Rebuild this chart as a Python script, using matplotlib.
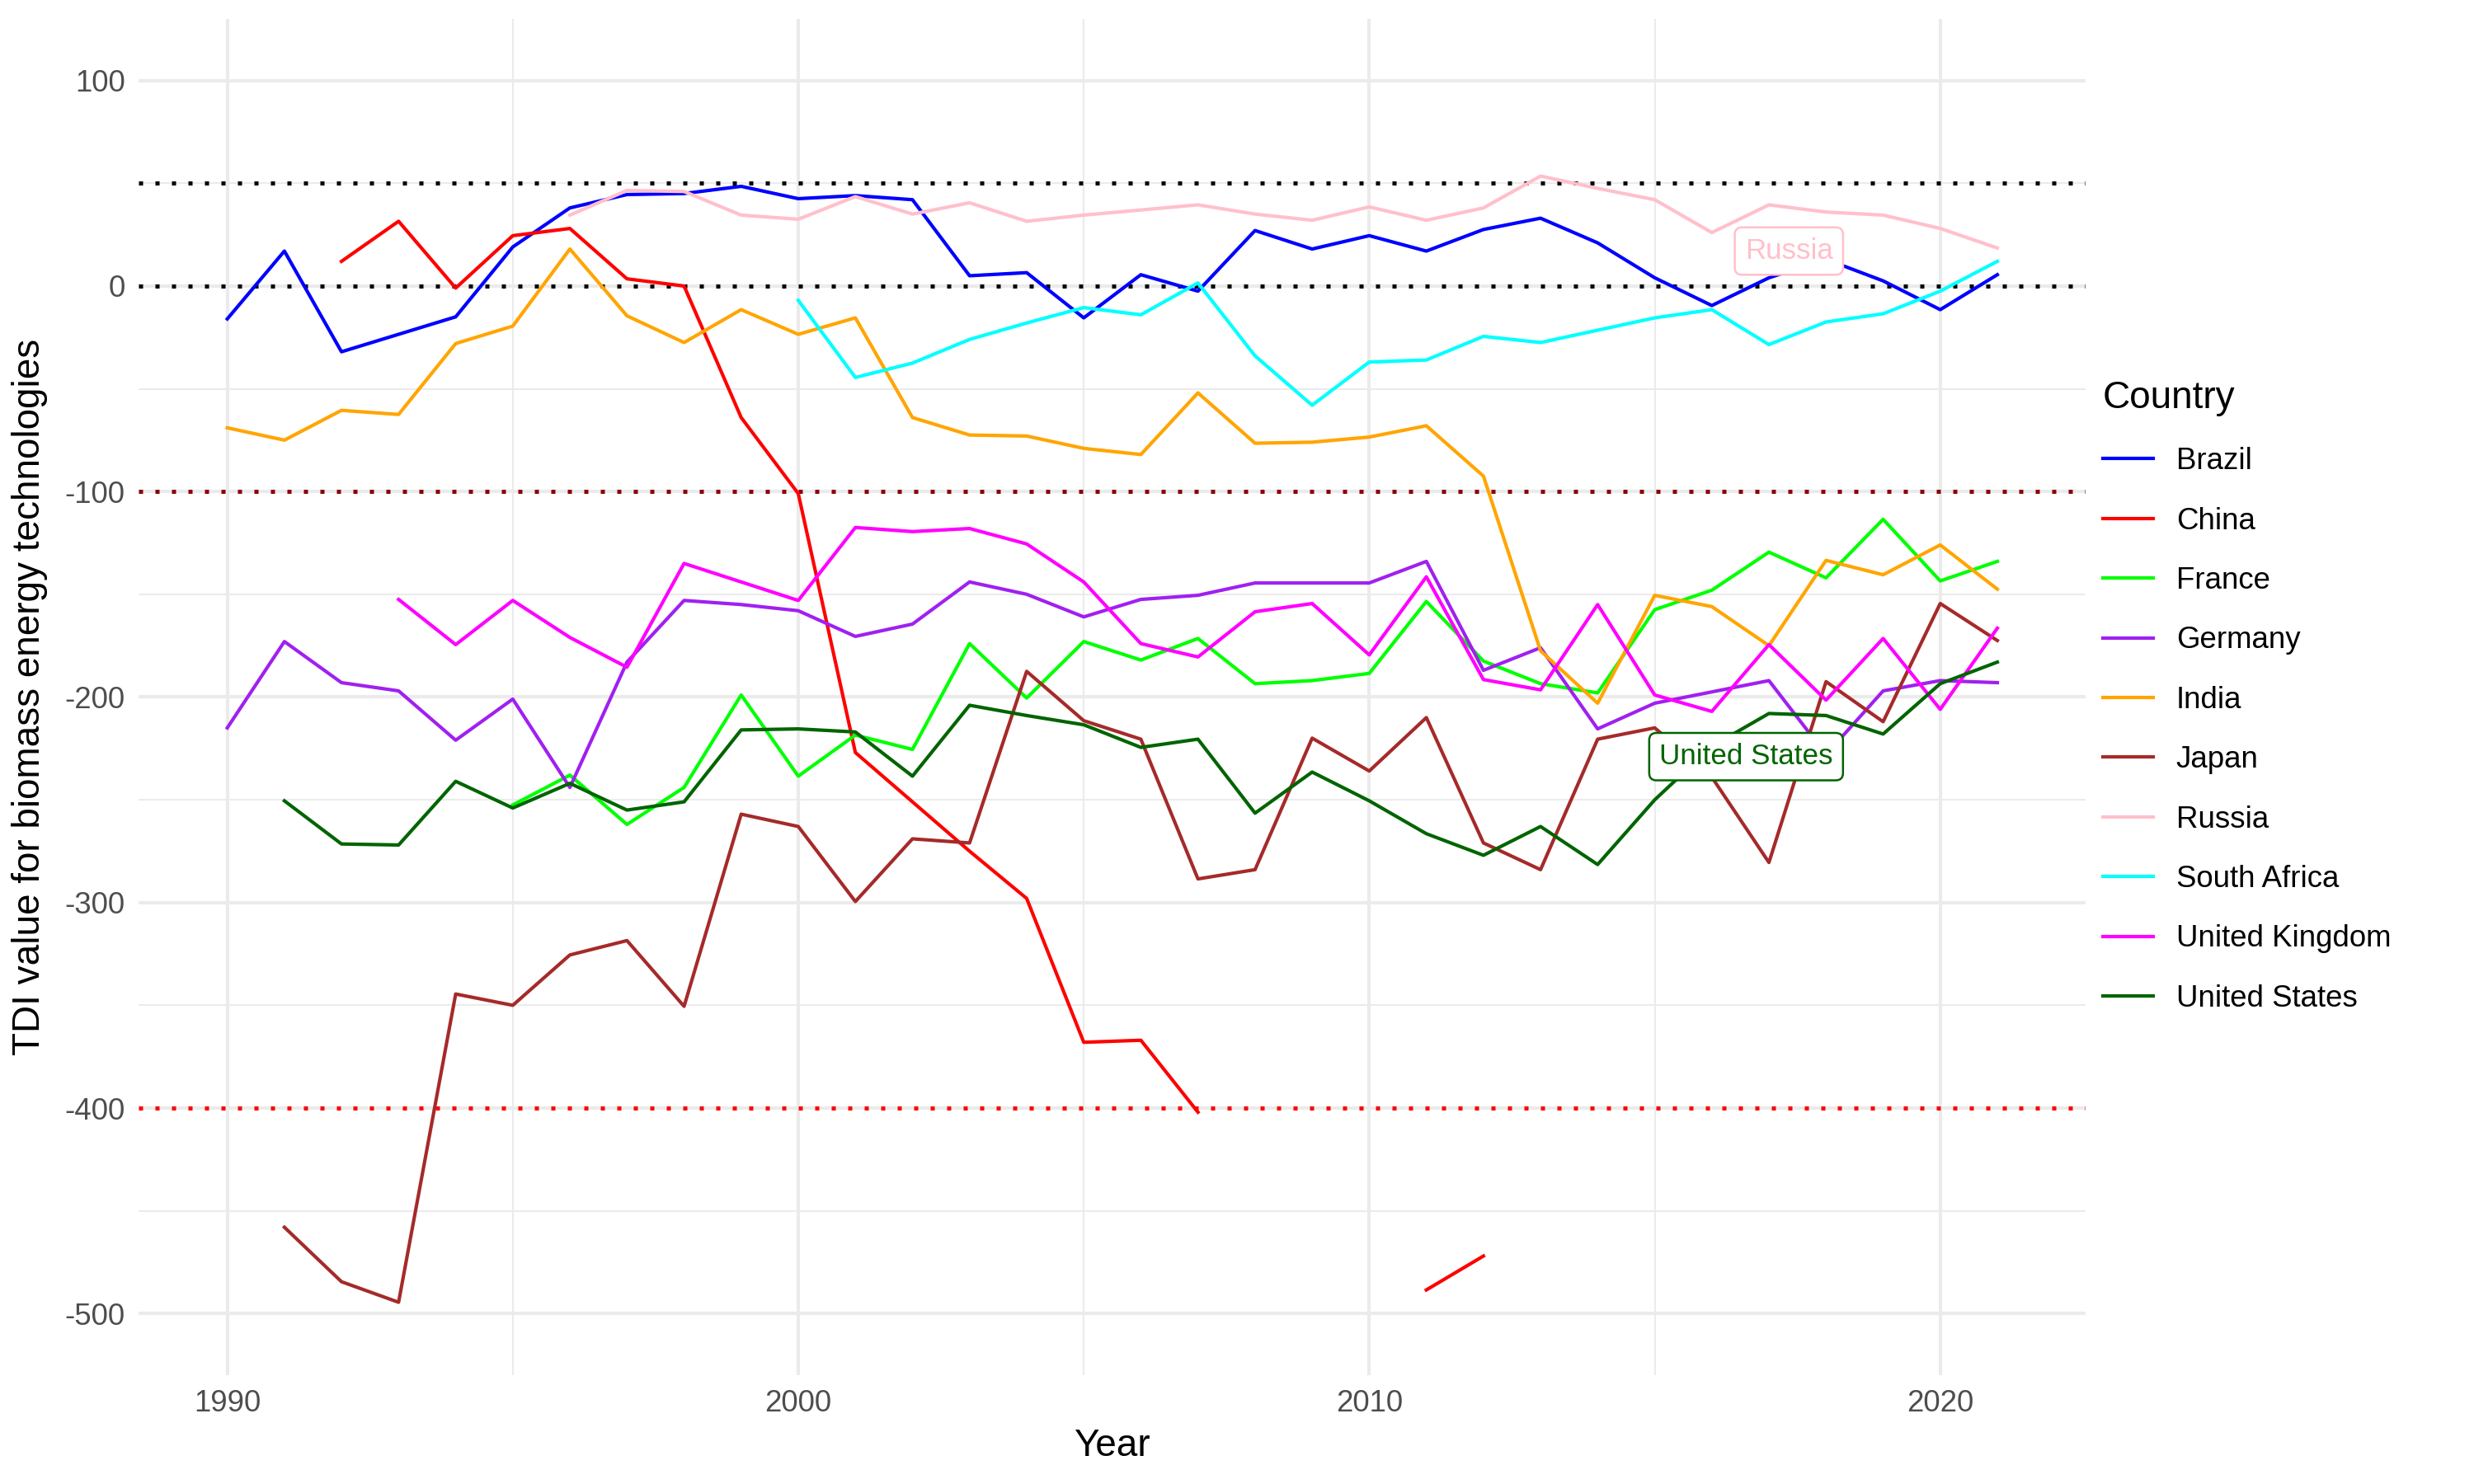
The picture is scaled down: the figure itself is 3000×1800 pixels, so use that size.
import numpy as np
import matplotlib
matplotlib.use("Agg")
import matplotlib.pyplot as plt
from matplotlib.ticker import MultipleLocator

plt.rcParams['font.family'] = ['Liberation Sans', 'DejaVu Sans']
plt.rcParams['axes.unicode_minus'] = False

nan = np.nan
years = list(range(1990, 2022))

brazil = [-16, 17, -32, -23.5, -15, 19, 38, 44.5, 45, 48.5, 42.5, 44, 42, 5, 6.5, -15.5,
          5.5, -2.5, 27, 18, 24.5, 17, 27.5, 33, 21, 4, -9.5, 4, 13, 2.5, -11.5, 5.5]
china = [nan, nan, 12, 31.5, -1, 24.5, 28, 3.5, 0, -64, -101, -227, -251, -275, -298, -368,
         -367, -402, nan, nan, nan, -488.5, -472] + [nan] * 9
france = [nan] * 5 + [-252.5, -238, -262, -244, -199, -238.5, -218.5, -225.5, -174, -200.5,
                      -173, -182, -171.5, -193.5, -192, -188.5, -153.5, -182.5, -193.5, -198,
                      -157.5, -148, -129.5, -142, -113.5, -143.5, -134]
germany = [-215, -173, -193, -197, -221, -201, -244, -183, -153, -155, -158, -170.5, -164.5,
           -144, -150, -161, -152.5, -150.5, -144.5, -144.5, -144.5, -134, -187, -176, -215.5,
           -203, -197.5, -192, -228, -197, -192, -193]
india = [-69, -75, -60.5, -62.5, -28, -19.5, 18, -14.5, -27.5, -11.5, -23.5, -15.5, -64, -72.5,
         -73, -79, -82, -52, -76.5, -76, -73.5, -68, -92.5, -177.5, -203, -150.5, -156, -175,
         -133.5, -140.5, -126, -147.5]
japan = [nan, -458, -484.5, -494.5, -344.5, -350, -325.5, -318.5, -350.5, -257, -263, -299.5,
         -269, -271, -187.5, -211.5, -220.5, -288.5, -284, -220, -236, -210, -271, -284, -220.5,
         -215, -239, -280.5, -192.5, -212, -154.5, -172.5]
russia = [nan] * 6 + [34.5, 46.5, 46, 34.5, 32.5, 43.5, 35, 40.5, 31.5, 34.5, 37, 39.5, 35, 32,
                      38.5, 32, 38, 53.5, 47.5, 42, 26, 39.5, 36, 34.5, 28, 18.5]
south_africa = [nan] * 10 + [-7, -44.5, -37.5, -26, -18, -10.5, -14, 1.5, -34, -58, -37, -36,
                             -24.5, -27.5, -21.5, -15.5, -11.5, -28.5, -17.5, -13.5, -2.5, 12]
uk = [nan] * 3 + [-152.5, -174.5, -153, -171, -185.5, -135, -144, -153, -117.5, -119.5, -118,
                  -125.5, -144, -174, -180.5, -158.5, -154.5, -179.5, -141.5, -191.5, -196.5,
                  -155, -199, -207, -174.5, -201.5, -171.5, -206, -166.5]
us = [nan, -250.5, -271.5, -272, -241, -254, -242, -255, -251, -216, -215.5, -217, -238.5, -204,
      -209, -213.5, -224.5, -220.5, -256.5, -236.5, -250.5, -266.5, -277, -263, -281.5, -250,
      -224, -208, -209, -218, -193.5, -183]

countries = ['Brazil', 'China', 'France', 'Germany', 'India', 'Japan', 'Russia',
             'South Africa', 'United Kingdom', 'United States']
series = [brazil, china, france, germany, india, japan, russia, south_africa, uk, us]
colors = ['#0000FF', '#FF0000', '#00FF00', '#A020F0', '#FFA500', '#A52A2A', '#FFC0CB',
          '#00FFFF', '#FF00FF', '#006400']

ref_levels = [50, 0, -100, -400]
ref_colors = ['black', 'black', '#8B0000', '#FF0000']

fig = plt.figure(figsize=(10, 6), dpi=300)
ax = fig.add_axes([0.0561, 0.0733, 0.787, 0.914])

for lvl, c in zip(ref_levels, ref_colors):
    ax.axhline(lvl, color=c, lw=1.2, linestyle=(0, (1, 3)), dash_capstyle='butt', zorder=2)

handles = []
for name, vals, c in zip(countries, series, colors):
    h, = ax.plot(years, np.array(vals, dtype=float), color=c, lw=1.0, label=name, zorder=3)
    handles.append(h)

# labels
ax.text(2017.35, 17, 'Russia', color='#FFC0CB', fontsize=8.4, ha='center', va='center', zorder=5,
        bbox=dict(boxstyle='round,pad=0.35,rounding_size=0.25', fc='white', ec='#FFC0CB', lw=0.6))
ax.text(2016.6, -229, 'United States', color='#006400', fontsize=8.4, ha='center', va='center',
        zorder=5,
        bbox=dict(boxstyle='round,pad=0.35,rounding_size=0.25', fc='white', ec='#006400', lw=0.6))

ax.set_xlim(1988.45, 2022.55)
ax.set_ylim(-530, 130)
ax.xaxis.set_major_locator(MultipleLocator(10))
ax.xaxis.set_minor_locator(MultipleLocator(5))
ax.yaxis.set_major_locator(MultipleLocator(100))
ax.yaxis.set_minor_locator(MultipleLocator(50))
ax.grid(which='major', color='#EBEBEB', lw=1.0, zorder=0)
ax.grid(which='minor', color='#EBEBEB', lw=0.5, zorder=0)
ax.set_axisbelow(True)
for s in ax.spines.values():
    s.set_visible(False)
ax.tick_params(which='both', length=0, labelsize=8.8, labelcolor='#4D4D4D', pad=4)
ax.set_xlabel('Year', fontsize=11, labelpad=3)
ax.set_ylabel('TDI value for biomass energy technologies', fontsize=11, labelpad=5)

leg = ax.legend(handles=handles, title='Country', loc='upper left',
                bbox_to_anchor=(0.850, 0.744), bbox_transform=fig.transFigure,
                frameon=False, fontsize=8.8, title_fontsize=11, handlelength=1.67,
                handletextpad=0.75, labelspacing=1.02, borderaxespad=0, borderpad=0)
leg._legend_box.align = 'left'

fig.savefig('out.png', dpi=300, facecolor='white')
